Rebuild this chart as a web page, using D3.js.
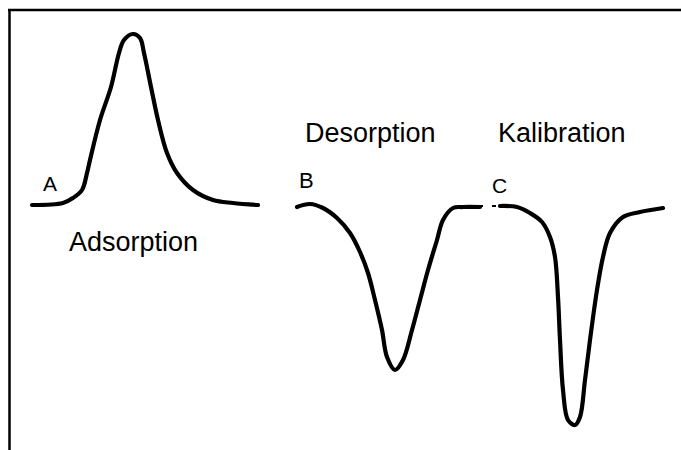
<!DOCTYPE html>
<html>
<head>
<meta charset="utf-8">
<script src="https://cdn.jsdelivr.net/npm/d3@7/dist/d3.min.js"></script>
<style>
  html, body { margin: 0; padding: 0; background: #fff; }
  svg { display: block; }
  text { font-family: "Liberation Sans", Arial, sans-serif; fill: #000; }
</style>
</head>
<body>
<svg id="chart" width="681" height="450"></svg>
<script>
// Time axis (arbitrary units) and detector signal relative to baseline.
const adsorptionTime   = [22, 53, 63, 72, 77, 80, 90, 101, 109, 114, 123, 130, 134, 141, 148, 157, 167, 183, 203, 223, 248];
const adsorptionSignal = [0, 2, 7, 15, 32, 45, 85, 118, 152, 165, 171, 167, 152, 118, 85, 52, 32, 15, 5, 2, 0];

const desorptionTime   = [287, 300, 313, 327, 340, 350, 358, 365, 372, 377, 385, 393, 402, 410, 418, 427, 433, 443, 453, 470];
const desorptionSignal = [-2, 1, -3, -13, -28, -47, -68, -95, -125, -152, -165, -155, -125, -95, -65, -35, -15, -3, -2, -2];

const calibrationTime   = [490, 507, 520, 532, 540, 545, 548, 550, 553, 558, 565, 570, 575, 580, 587, 593, 600, 613, 630, 653];
const calibrationSignal = [-1, -2, -8, -17, -32, -52, -92, -135, -185, -215, -220, -212, -175, -135, -85, -52, -28, -12, -7, -3];

// Short broken lead-in before the calibration pulse
const leadInTime   = [469, 487];
const leadInSignal = [-1, -1];

const labels = [
  { text: "A",           t: 33,  v: 14,   size: 21 },
  { text: "Adsorption",  t: 59,  v: -46,  size: 27 },
  { text: "B",           t: 289, v: 17,   size: 22 },
  { text: "Desorption",  t: 295, v: 63,   size: 27 },
  { text: "C",           t: 482, v: 12,   size: 21 },
  { text: "Kalibration", t: 488, v: 63,   size: 27 }
];

const width = 681, height = 450;
const svg = d3.select("#chart");

const x = d3.scaleLinear().domain([0, 670]).range([10, 680]);
const y = d3.scaleLinear().domain([-240, 200]).range([445, 5]);

// Frame: top and left edges only
svg.append("line")
  .attr("x1", 8).attr("x2", width).attr("y1", 10).attr("y2", 10)
  .attr("stroke", "#000").attr("stroke-width", 2.5);
svg.append("line")
  .attr("x1", 9.5).attr("x2", 9.5).attr("y1", 9).attr("y2", height)
  .attr("stroke", "#000").attr("stroke-width", 2.5);

const line = d3.line()
  .x(d => x(d[0]))
  .y(d => y(d[1]))
  .curve(d3.curveCatmullRom.alpha(0.5));

const series = [
  [adsorptionTime, adsorptionSignal],
  [desorptionTime, desorptionSignal],
  [calibrationTime, calibrationSignal]
];

series.forEach(([ts, vs]) => {
  svg.append("path")
    .datum(d3.zip(ts, vs))
    .attr("d", line)
    .attr("fill", "none")
    .attr("stroke", "#000")
    .attr("stroke-width", 4.2)
    .attr("stroke-linecap", "round")
    .attr("stroke-linejoin", "round");
});

svg.append("path")
  .datum(d3.zip(leadInTime, leadInSignal))
  .attr("d", d3.line().x(d => x(d[0])).y(d => y(d[1])))
  .attr("fill", "none")
  .attr("stroke", "#000")
  .attr("stroke-width", 2)
  .attr("stroke-dasharray", "4,9");

svg.selectAll("text.label")
  .data(labels)
  .join("text")
  .attr("class", "label")
  .attr("x", d => x(d.t))
  .attr("y", d => y(d.v))
  .attr("font-size", d => d.size)
  .text(d => d.text);
</script>
</body>
</html>
